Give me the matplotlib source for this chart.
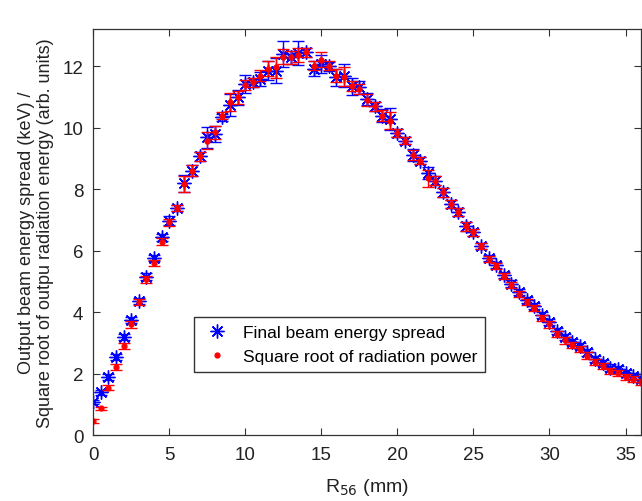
import numpy as np
import matplotlib
matplotlib.use("Agg")
import matplotlib.pyplot as plt
from matplotlib.lines import Line2D

plt.rcParams['font.family'] = ['Liberation Sans', 'DejaVu Sans']

# R56 scan (mm)
r56 = np.arange(0, 36.5, 0.5)

spread = [1.08, 1.39, 1.90, 2.53, 3.18, 3.74, 4.37, 5.15, 5.75, 6.43,
          6.97, 7.38, 8.19, 8.60, 9.06, 9.68, 9.79, 10.33, 10.73, 10.98,
          11.41, 11.47, 11.58, 11.85, 11.85, 12.39, 12.28, 12.42, 12.45, 11.92,
          12.07, 11.99, 11.63, 11.69, 11.34, 11.31, 10.93, 10.69, 10.39, 10.28,
          9.82, 9.57, 9.11, 8.92, 8.52, 8.27, 7.89, 7.51, 7.26, 6.79,
          6.59, 6.16, 5.76, 5.54, 5.21, 4.93, 4.66, 4.39, 4.21, 3.90,
          3.69, 3.39, 3.18, 3.04, 2.91, 2.69, 2.49, 2.36, 2.20, 2.15,
          2.01, 1.93, 1.82]
spread_err = [0.08, 0.08, 0.10, 0.10, 0.10, 0.10, 0.10, 0.12, 0.10, 0.12,
              0.15, 0.10, 0.27, 0.18, 0.15, 0.35, 0.25, 0.12, 0.35, 0.25,
              0.30, 0.15, 0.22, 0.30, 0.40, 0.43, 0.20, 0.40, 0.15, 0.25,
              0.28, 0.15, 0.27, 0.38, 0.27, 0.22, 0.20, 0.15, 0.22, 0.35,
              0.12, 0.12, 0.20, 0.12, 0.20, 0.15, 0.15, 0.12, 0.12, 0.15,
              0.12, 0.10, 0.10, 0.10, 0.10, 0.10, 0.10, 0.10, 0.10, 0.10,
              0.10, 0.10, 0.10, 0.10, 0.10, 0.10, 0.10, 0.10, 0.10, 0.10,
              0.10, 0.10, 0.10]

power = [0.47, 0.87, 1.54, 2.22, 2.91, 3.60, 4.34, 5.07, 5.61, 6.29,
         6.92, 7.38, 8.16, 8.60, 9.07, 9.57, 9.84, 10.39, 10.82, 10.98,
         11.39, 11.47, 11.69, 11.92, 11.96, 12.31, 12.28, 12.36, 12.45, 12.01,
         12.21, 12.01, 11.69, 11.66, 11.36, 11.26, 10.90, 10.69, 10.39, 10.22,
         9.82, 9.57, 9.11, 8.92, 8.35, 8.27, 7.89, 7.51, 7.26, 6.79,
         6.59, 6.16, 5.74, 5.50, 5.17, 4.88, 4.60, 4.32, 4.13, 3.82,
         3.60, 3.30, 3.08, 2.94, 2.80, 2.59, 2.39, 2.26, 2.10, 2.03,
         1.90, 1.82, 1.72]
power_err = [0.06, 0.06, 0.08, 0.10, 0.10, 0.10, 0.10, 0.12, 0.10, 0.12,
             0.12, 0.10, 0.25, 0.18, 0.15, 0.27, 0.20, 0.12, 0.29, 0.22,
             0.17, 0.15, 0.17, 0.25, 0.35, 0.25, 0.22, 0.22, 0.15, 0.15,
             0.25, 0.15, 0.22, 0.30, 0.17, 0.17, 0.20, 0.15, 0.17, 0.27,
             0.12, 0.12, 0.15, 0.12, 0.28, 0.15, 0.15, 0.12, 0.12, 0.15,
             0.12, 0.10, 0.10, 0.10, 0.10, 0.10, 0.10, 0.10, 0.10, 0.10,
             0.10, 0.10, 0.10, 0.10, 0.10, 0.10, 0.10, 0.10, 0.10, 0.10,
             0.10, 0.10, 0.10]

# MATLAB-like asterisk (8 arms)
star = (8, 2, 0)

fig = plt.figure(figsize=(6.42, 5.02), dpi=100)
ax = fig.add_axes([0.145, 0.131, 0.853, 0.809])

ax.errorbar(r56, spread, yerr=spread_err, fmt='none', ecolor='blue',
            elinewidth=1, capsize=4.5, capthick=1)
ax.plot(r56, spread, ls='none', marker=star, color='blue', ms=10, mew=1.0)
ax.errorbar(r56, power, yerr=power_err, fmt='.', color='red', ms=7,
            elinewidth=1, capsize=4.5, capthick=1)

ax.set_xlim(0, 36)
ax.set_ylim(0, 13.2)
ax.set_xticks(range(0, 36, 5))
ax.set_yticks(range(0, 13, 2))
ax.tick_params(direction='in', top=True, right=True, labelsize=13.5, length=5,
               color='#333333', labelcolor='#222222')
ax.tick_params(axis='x', pad=8)
ax.tick_params(axis='y', pad=7)
for s in ax.spines.values():
    s.set_color('#333333')
    s.set_linewidth(0.9)

ax.set_xlabel('R$_{56}$ (mm)', fontsize=14, labelpad=9, color='#222222')
ax.set_ylabel('Output beam energy spread (keV) /\n'
              'Square root of outpu radiation energy (arb. units)',
              fontsize=13, linespacing=1.2, labelpad=6, color='#222222')

handles = [Line2D([], [], ls='none', marker=star, color='blue', ms=10, mew=1.0),
           Line2D([], [], ls='none', marker='.', color='red', ms=7)]
ax.legend(handles, ['Final beam energy spread', 'Square root of radiation power'],
          loc='lower left', bbox_to_anchor=(0.168, 0.135), fontsize=12.5,
          fancybox=False, edgecolor='#333333', framealpha=1,
          handletextpad=0.6, borderpad=0.45, labelspacing=0.5,
          handlelength=1.8)

fig.savefig('out.png', dpi=100)
